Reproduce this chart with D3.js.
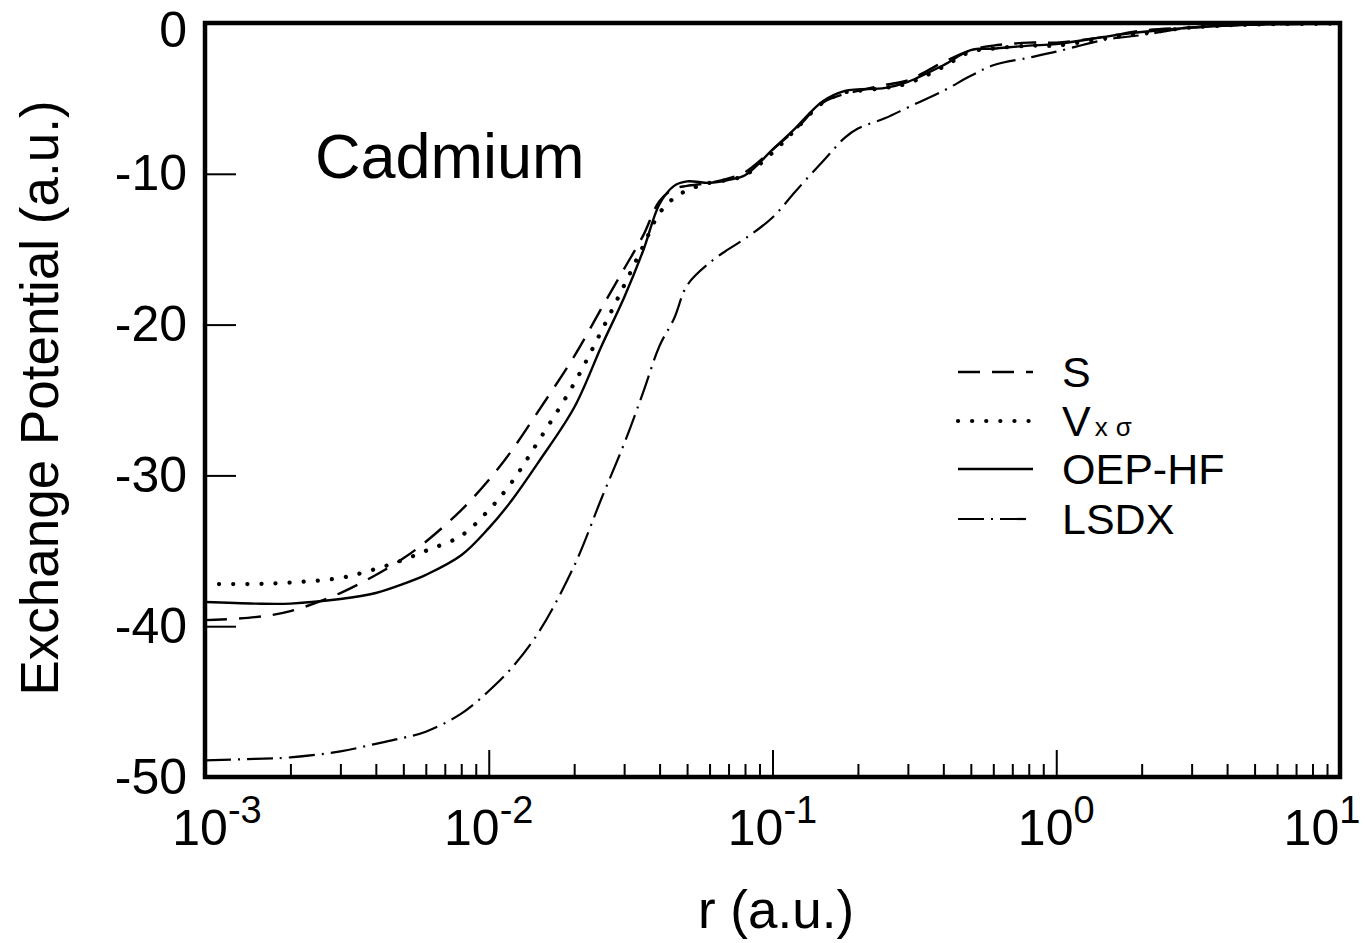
<!DOCTYPE html>
<html>
<head>
<meta charset="utf-8">
<script src="https://cdn.jsdelivr.net/npm/d3@7"></script>
<style>
  body { margin: 0; background: #fff; }
  svg { display: block; font-family: "Liberation Sans", Arial, sans-serif; }
</style>
</head>
<body>
<svg id="chart" width="1366" height="943"></svg>
<script>
// radius grid (a.u.)
var rGrid = [0.001, 0.0015, 0.002, 0.003, 0.004, 0.005, 0.006, 0.008,
  0.01, 0.012, 0.015, 0.02, 0.025, 0.03, 0.035, 0.04, 0.045, 0.05,
  0.06, 0.07, 0.08, 0.1, 0.12, 0.15, 0.18, 0.2, 0.25, 0.3,
  0.4, 0.5, 0.6, 0.8, 1, 1.5, 2, 3, 5, 10];

// exchange potential for each approximation (a.u.)
var sVals = [-39.6, -39.4, -39.0, -37.8, -36.6, -35.5, -34.4, -32.3,
  -30.3, -28.4, -25.7, -22.1, -18.9, -16.3, -14.1, -11.8, -11.0, -10.8,
  -10.6, -10.3, -9.9, -8.4, -7.1, -5.3, -4.7, -4.5, -4.1, -3.8,
  -2.6, -1.8, -1.5, -1.3, -1.3, -0.9, -0.5, -0.3, -0.1, -0.05];

var vxVals = [-37.2, -37.2, -37.1, -36.8, -36.2, -35.6, -35.0, -34.0,
  -32.3, -30.5, -27.7, -23.9, -20.4, -17.4, -14.8, -12.6, -11.6, -11.1,
  -10.6, -10.4, -10.1, -8.6, -7.1, -5.3, -4.6, -4.5, -4.3, -4.0,
  -2.9, -1.9, -1.7, -1.5, -1.5, -1.0, -0.7, -0.3, -0.1, -0.05];

var oepVals = [-38.4, -38.5, -38.5, -38.2, -37.8, -37.2, -36.6, -35.3,
  -33.5, -31.7, -29.1, -25.5, -21.4, -18.2, -15.1, -12.0, -10.8, -10.5,
  -10.6, -10.4, -10.1, -8.4, -7.0, -5.2, -4.5, -4.4, -4.3, -3.9,
  -2.8, -1.8, -1.7, -1.5, -1.4, -0.9, -0.6, -0.3, -0.1, -0.05];

var lsdxVals = [-48.9, -48.8, -48.7, -48.3, -47.8, -47.4, -47.0, -45.8,
  -44.3, -42.8, -40.4, -36.0, -31.5, -27.9, -24.5, -21.4, -19.6, -17.4,
  -15.9, -15.0, -14.3, -12.9, -11.2, -9.2, -7.6, -7.0, -6.3, -5.6,
  -4.5, -3.5, -2.8, -2.3, -1.9, -1.1, -0.8, -0.3, -0.1, -0.05];

// ticks
var yTicks = [0, -10, -20, -30, -40, -50];
var xTickExps = [-3, -2, -1, 0, 1];
var xLabelShift = [12, 0, 0, 0, -18];

// plot frame
var plot = {left: 205, right: 1340, top: 23, bottom: 777};

var svg = d3.select("#chart");

var xScale = d3.scaleLog().domain([1e-3, 10]).range([plot.left, plot.right]);
var yScale = d3.scaleLinear().domain([-50, 0]).range([plot.bottom, plot.top]);

// series styles
var series = [
  {name: "S", vals: sVals, dash: "22,12", width: 2.4, cap: "butt"},
  {name: "Vxσ", vals: vxVals, dash: "0.1,14", width: 4.2, cap: "round"},
  {name: "OEP-HF", vals: oepVals, dash: null, width: 2.4, cap: "butt"},
  {name: "LSDX", vals: lsdxVals, dash: "26,7,2,7", width: 2.2, cap: "butt"}
];

svg.append("clipPath").attr("id", "clip")
  .append("rect")
  .attr("x", plot.left).attr("y", plot.top)
  .attr("width", plot.right - plot.left).attr("height", plot.bottom - plot.top);

var line = d3.line()
  .x(function(d) { return xScale(d[0]); })
  .y(function(d) { return yScale(d[1]); })
  .curve(d3.curveCatmullRom.alpha(0.5));

svg.append("g").attr("clip-path", "url(#clip)")
  .selectAll("path")
  .data(series)
  .enter()
  .append("path")
  .attr("d", function(s) { return line(rGrid.map(function(r, i) { return [r, s.vals[i]]; })); })
  .attr("fill", "none")
  .attr("stroke", "#000")
  .attr("stroke-width", function(s) { return s.width; })
  .attr("stroke-linecap", function(s) { return s.cap; })
  .attr("stroke-dasharray", function(s) { return s.dash; });

// y axis (ticks point inward)
var yAxis = svg.append("g")
  .attr("transform", "translate(" + plot.left + ",0)")
  .call(d3.axisLeft(yScale).tickValues(yTicks).tickSize(-31).tickPadding(18)
    .tickFormat(function(d) { return d; }));
yAxis.select(".domain").remove();
yAxis.selectAll(".tick line").attr("stroke-width", 2);
yAxis.selectAll(".tick text")
  .attr("font-size", 50)
  .attr("font-family", "Liberation Sans, Arial, sans-serif")
  .attr("fill", "#000")
  .attr("dy", function(d) { return d === 0 ? "0.47em" : "0.32em"; });

// x axis minor ticks
var minorTicks = [];
xTickExps.slice(0, -1).forEach(function(e) {
  d3.range(2, 10).forEach(function(k) { minorTicks.push(k * Math.pow(10, e)); });
});
var xMinor = svg.append("g")
  .attr("transform", "translate(0," + plot.bottom + ")")
  .call(d3.axisBottom(xScale).tickValues(minorTicks).tickSize(-13).tickFormat(""));
xMinor.select(".domain").remove();
xMinor.selectAll(".tick line").attr("stroke-width", 2);

// x axis major ticks + labels
var xMajor = svg.append("g")
  .attr("transform", "translate(0," + plot.bottom + ")")
  .call(d3.axisBottom(xScale).tickValues(xTickExps.map(function(e) { return Math.pow(10, e); }))
    .tickSize(-27).tickFormat(""));
xMajor.select(".domain").remove();
xMajor.selectAll(".tick line").attr("stroke-width", 2);

var xLabels = svg.append("g").selectAll("text")
  .data(xTickExps)
  .enter()
  .append("text")
  .attr("x", function(e, i) { return xScale(Math.pow(10, e)) + xLabelShift[i]; })
  .attr("y", 845)
  .attr("text-anchor", "middle")
  .attr("font-size", 50)
  .attr("fill", "#000");
xLabels.append("tspan").text("10");
xLabels.append("tspan")
  .attr("dy", -22)
  .attr("font-size", 38)
  .text(function(e) { return e < 0 ? "-" + (-e) : e; });

// frame
svg.append("rect")
  .attr("x", plot.left).attr("y", plot.top)
  .attr("width", plot.right - plot.left).attr("height", plot.bottom - plot.top)
  .attr("fill", "none")
  .attr("stroke", "#000")
  .attr("stroke-width", 4.5);

// axis titles
svg.append("text")
  .attr("x", 776)
  .attr("y", 928)
  .attr("text-anchor", "middle")
  .attr("font-size", 53)
  .text("r (a.u.)");

svg.append("text")
  .attr("transform", "translate(58,398) rotate(-90)")
  .attr("text-anchor", "middle")
  .attr("font-size", 53)
  .text("Exchange Potential (a.u.)");

// element label
svg.append("text")
  .attr("x", 315)
  .attr("y", 178)
  .attr("font-size", 63)
  .text("Cadmium");

// legend
var legendY = [372, 421, 469, 519];
var legend = svg.append("g").selectAll("g")
  .data(series)
  .enter()
  .append("g")
  .attr("transform", function(s, i) { return "translate(0," + legendY[i] + ")"; });

legend.append("line")
  .attr("x1", 958).attr("x2", 1033)
  .attr("y1", 0).attr("y2", 0)
  .attr("stroke", "#000")
  .attr("stroke-width", function(s) { return s.width; })
  .attr("stroke-linecap", function(s) { return s.cap; })
  .attr("stroke-dasharray", function(s) { return s.dash; });

legend.each(function(s) {
  var t = d3.select(this).append("text")
    .attr("x", 1062)
    .attr("y", 15)
    .attr("font-size", 43);
  if (s.name === "Vxσ") {
    t.append("tspan").text("V");
    t.append("tspan").attr("font-size", 26).attr("dx", 4).text("x");
    t.append("tspan").attr("font-size", 26).attr("dx", 8).text("σ");
  } else {
    t.text(s.name);
  }
});
</script>
</body>
</html>
